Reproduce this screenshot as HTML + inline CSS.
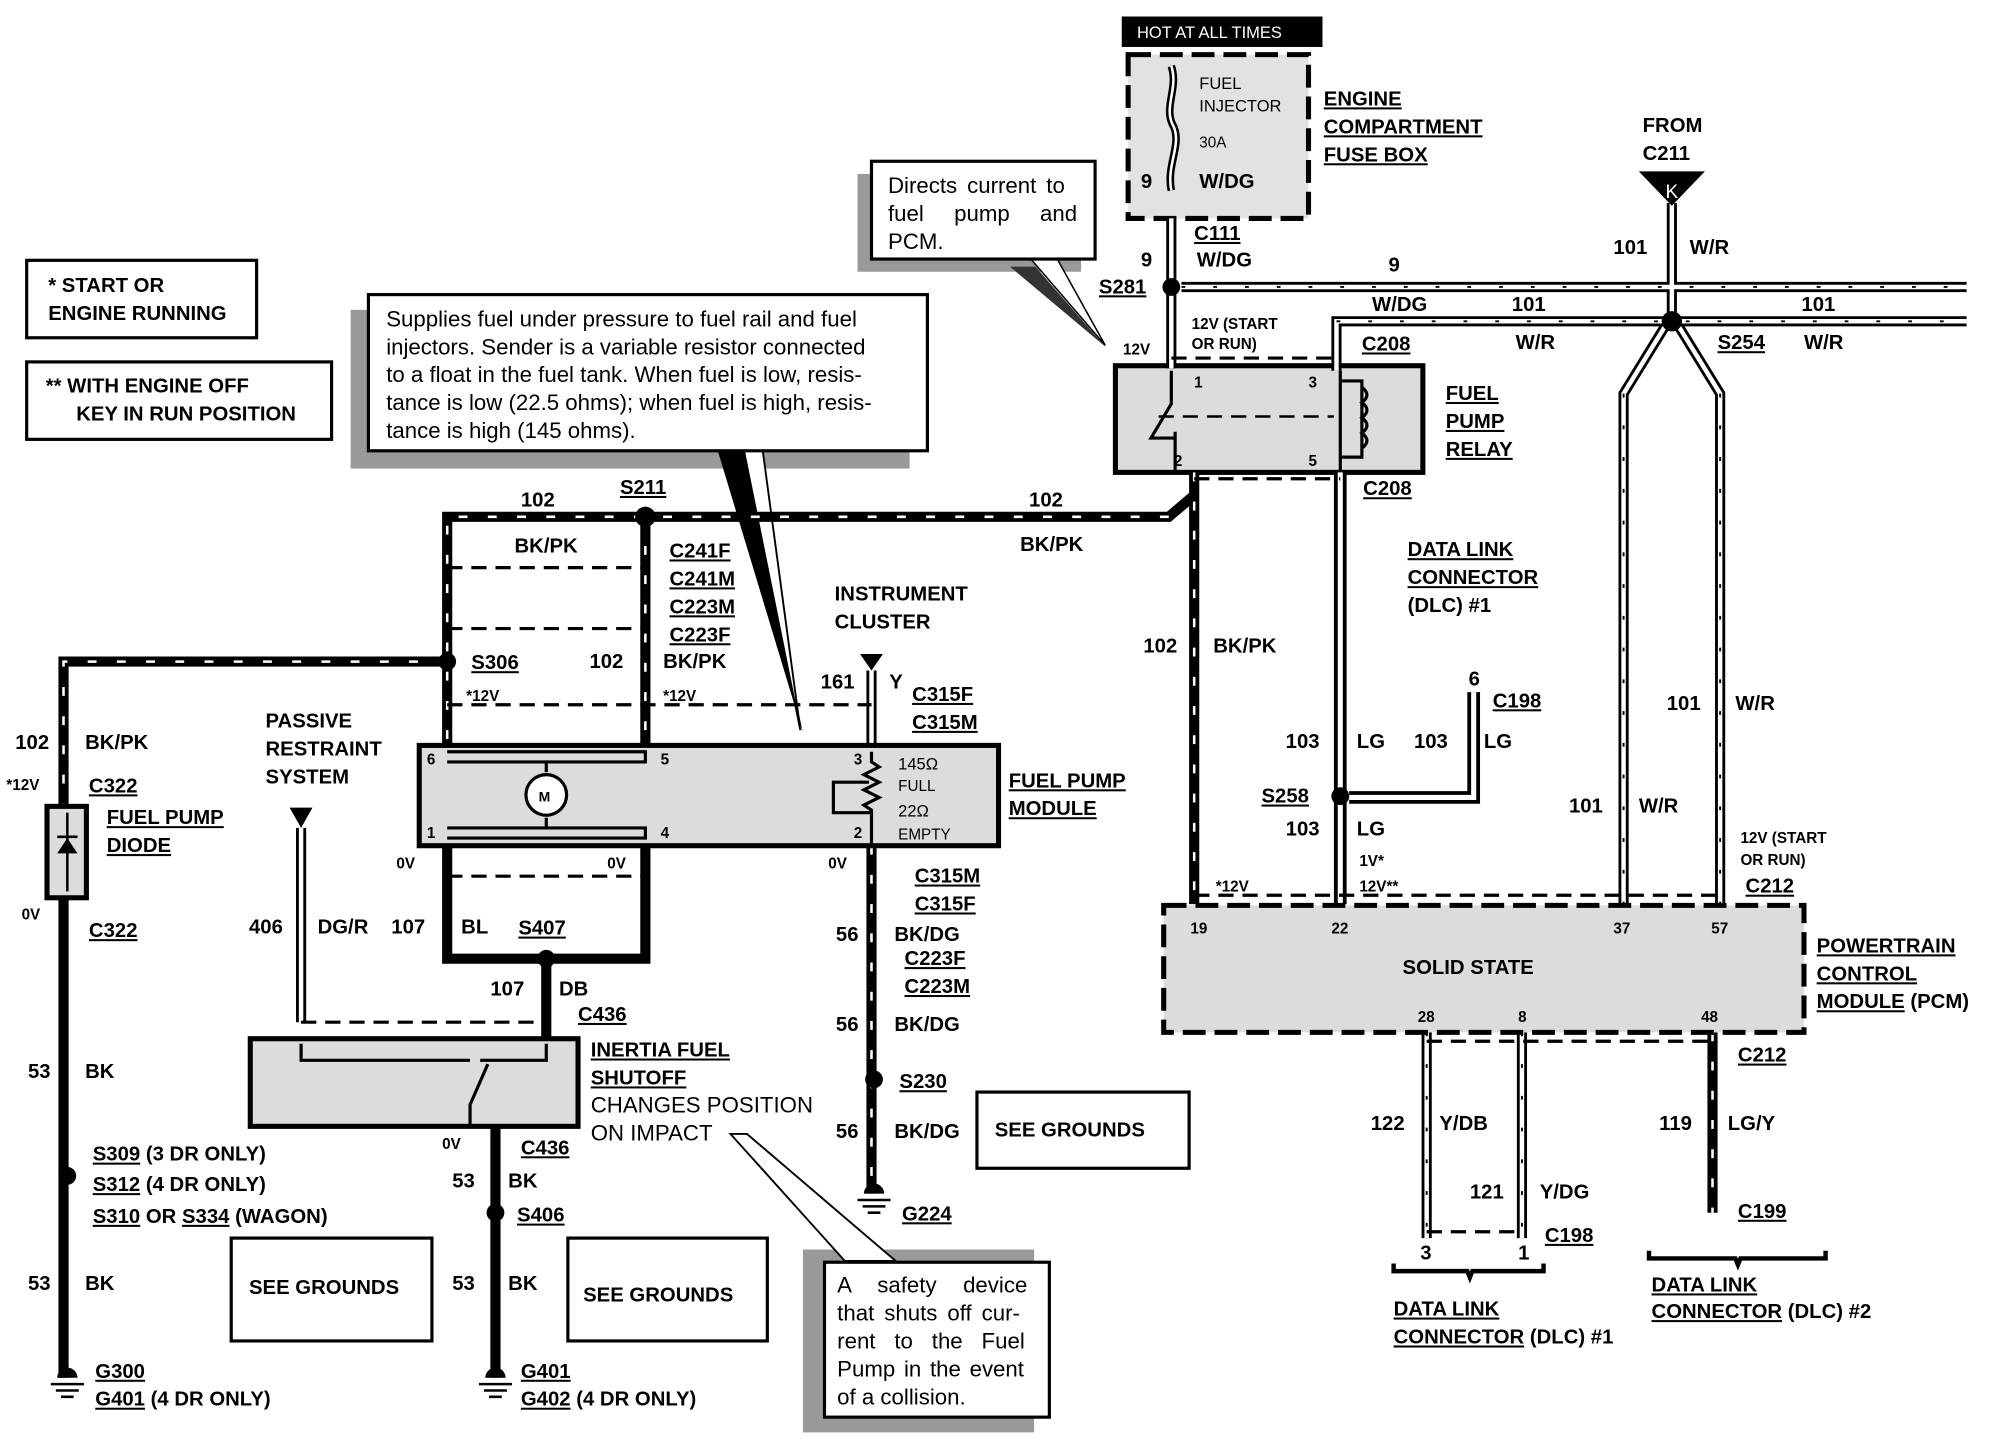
<!DOCTYPE html>
<html><head><meta charset="utf-8"><style>
html,body{margin:0;padding:0;background:#fff}
svg{display:block}
text{font-family:"Liberation Sans",Arial,sans-serif;font-weight:bold;font-size:16px;fill:#000}
.r{font-weight:normal;font-size:17.5px}
.s{font-size:12px}
.u{text-decoration:underline}
.ow{fill:none;stroke:#000;stroke-width:8}
.iw{fill:none;stroke:#fff;stroke-width:3.5}
.ib{fill:none;stroke:#fff;stroke-width:2;stroke-dasharray:7 16}
.sl{fill:none;stroke:#000;stroke-width:1.5;stroke-dasharray:3 22}
.lg{fill:none;stroke:#000;stroke-width:10}
.lgi{fill:none;stroke:#fff;stroke-width:4}
.dash{fill:none;stroke:#000;stroke-width:2.5;stroke-dasharray:12 7}
.dashb{fill:none;stroke:#000;stroke-width:4;stroke-dasharray:18 7}
.box{fill:#dcdcdc;stroke:#000;stroke-width:4}
.thin{fill:none;stroke:#000;stroke-width:2}
</style></head><body>
<svg width="1992" height="1440" viewBox="0 0 1568 1134" preserveAspectRatio="none">
<rect width="1568" height="1134" fill="#fff"/>

<!-- legend boxes -->
<rect x="21" y="205" width="181" height="61" fill="#fff" stroke="#000" stroke-width="2.5"/>
<text x="38" y="230">*   START OR</text>
<text x="38" y="252">ENGINE RUNNING</text>
<rect x="21" y="285" width="240" height="61" fill="#fff" stroke="#000" stroke-width="2.5"/>
<text x="36" y="309">** WITH ENGINE OFF</text>
<text x="60" y="331">KEY IN RUN POSITION</text>

<!-- big callout -->
<rect x="276" y="244" width="440" height="125" fill="#999"/>
<polygon points="565,355 585,355 632,577" fill="#000"/>
<polygon points="585,352 600,352 630,575" fill="#fff" stroke="#000" stroke-width="1.5"/>
<rect x="290" y="232" width="440" height="123" fill="#fff" stroke="#000" stroke-width="2.5"/>
<text class="r" x="304" y="257">Supplies fuel under pressure to fuel rail and fuel</text>
<text class="r" x="304" y="279">injectors. Sender is a variable resistor connected</text>
<text class="r" x="304" y="301">to a float in the fuel tank. When fuel is low, resis-</text>
<text class="r" x="304" y="323">tance is low (22.5 ohms); when fuel is high, resis-</text>
<text class="r" x="304" y="345">tance is high (145 ohms).</text>

<!-- directs current callout -->
<rect x="675" y="137" width="176" height="77" fill="#999"/>
<polygon points="795,210 815,210 870,273" fill="#333"/>
<polygon points="808,200 830,200 870,272" fill="#fff" stroke="#000" stroke-width="1.2"/>
<rect x="686" y="127" width="176" height="77" fill="#fff" stroke="#000" stroke-width="2.5"/>
<text class="r" x="699" y="152" style="word-spacing:3px">Directs current to</text>
<text class="r" x="699" y="174" style="word-spacing:19px">fuel pump and</text>
<text class="r" x="699" y="196">PCM.</text>

<!-- safety callout -->
<rect x="632" y="984" width="182" height="144" fill="#999"/>
<polygon points="575,893 588,893 705,993 665,993" fill="#fff" stroke="#000" stroke-width="1.5"/>
<rect x="649" y="994" width="177" height="122" fill="#fff" stroke="#000" stroke-width="2.5"/>
<text class="r" x="659" y="1018" style="word-spacing:16px">A safety device</text>
<text class="r" x="659" y="1040" style="word-spacing:3px">that shuts off cur-</text>
<text class="r" x="659" y="1062" style="word-spacing:10px">rent to the Fuel</text>
<text class="r" x="659" y="1084" style="word-spacing:2px">Pump in the event</text>
<text class="r" x="659" y="1106">of a collision.</text>

<!-- HOT box & fuse box -->
<rect x="883" y="13" width="158" height="24" fill="#000"/>
<text x="895" y="30" style="fill:#fff;font-weight:normal;font-size:13px">HOT AT ALL TIMES</text>
<rect x="888" y="43" width="142" height="129" class="dashb" style="fill:#e2e2e2"/>
<path d="M922,52 C928,70 915,85 924,100 C930,115 918,130 922,150" fill="none" stroke="#000" stroke-width="6"/>
<path d="M922,52 C928,70 915,85 924,100 C930,115 918,130 922,150" fill="none" stroke="#fff" stroke-width="2"/>
<text x="944" y="70" style="font-weight:normal;font-size:13px">FUEL</text>
<text x="944" y="88" style="font-weight:normal;font-size:13px">INJECTOR</text>
<text x="944" y="116" style="font-weight:normal;font-size:12px">30A</text>
<text x="898" y="148">9</text><text x="944" y="148">W/DG</text>
<text class="u" x="1042" y="83">ENGINE</text>
<text class="u" x="1042" y="105">COMPARTMENT</text>
<text class="u" x="1042" y="127">FUSE BOX</text>

<!-- relay -->
<rect x="878" y="288" width="242" height="84" class="box"/>
<text class="s" x="940" y="305">1</text><text class="s" x="1030" y="305">3</text>
<text class="s" x="924" y="367">2</text><text class="s" x="1030" y="367">5</text>
<path d="M922,292 V318 L906,345 H925 M925,340 V372" class="thin" style="stroke-width:2.5"/>
<path d="M912,328 H1050" class="dash" style="stroke-width:2"/>
<path d="M1055,292 V300 H1072 V360 H1055 V372 M1055,300 V360" class="thin" style="stroke-width:2.5"/>
<path d="M1072,305 q8,6 0,12 q8,6 0,12 q8,6 0,12 q8,6 0,12" class="thin" style="stroke-width:2.5"/>
<text class="u" x="1138" y="315">FUEL</text>
<text class="u" x="1138" y="337">PUMP</text>
<text class="u" x="1138" y="359">RELAY</text>

<!-- striped wires -->
<g>
<path class="ow" d="M922,172 V290 M930,226 H1548 M1052,292 V253 H1548 M1316,160 V253 M1310,258 L1278,310 V712 M1322,258 L1354,310 V712 M1123,813 V975 M1198,813 V975 M237,652 V805 M686,528 V587"/>
<path class="iw" d="M922,172 V290 M930,226 H1548 M1052,292 V253 H1548 M1316,160 V253 M1310,258 L1278,310 V712 M1322,258 L1354,310 V712 M1123,813 V975 M1198,813 V975 M237,652 V805 M686,528 V587"/>
<path class="sl" d="M930,226 H1548 M1052,253 H1548 M1278,310 V712 M1354,310 V712 M1123,813 V975 M1198,813 V975"/>
</g>
<!-- LG wires -->
<path class="lg" d="M1055,372 V712 M1160,545 V628 H1062"/>
<path class="lgi" d="M1055,372 V712 M1160,545 V628 H1062"/>
<!-- black wires -->
<path class="ow" d="M940,372 V712 M940,390 L920,407 H352 V587 M508,407 V587 M352,521 H50 V635 M50,707 V1085 M686,666 V940 M390,887 V1085 M352,666 V755 H508 V666 M430,755 V818 M1348,813 V955"/>
<path class="ib" d="M940,372 V712 M920,407 H352 V587 M508,407 V587 M352,521 H50 V635 M686,666 V940 M1348,813 V955 M237,652 V805"/>

<!-- dashed connector lines -->
<path class="dash" d="M922,282 H1052 M940,377 H1055 M352,447 H508 M352,495 H508 M352,555 H686 M352,690 H508 M237,805 H430 M940,705 H1354 M1123,820 H1348 M1123,970 H1198"/>

<!-- splices -->
<g fill="#000">
<circle cx="922" cy="226" r="7"/><circle cx="1316" cy="253" r="8"/>
<circle cx="508" cy="407" r="8"/><circle cx="352" cy="521" r="7"/>
<circle cx="1055" cy="627" r="7"/><circle cx="430" cy="755" r="7"/>
<circle cx="688" cy="850" r="7"/><circle cx="390" cy="955" r="7"/><circle cx="53" cy="926" r="7"/>
<polygon points="1290,135 1342,135 1316,162"/>
<polygon points="228,636 246,636 237,652"/>
<polygon points="677,515 695,515 686,528"/>
</g>
<text x="1311" y="156" style="fill:#fff;font-weight:normal;font-size:15px">K</text>

<!-- grounds -->
<g fill="#000">
<path d="M45,1085 a8,8 0 0 1 16,0 z"/><path d="M40,1090 h26 M44,1095 h18 M48,1100 h10" stroke="#000" stroke-width="2"/>
<path d="M382,1085 a8,8 0 0 1 16,0 z"/><path d="M377,1090 h26 M381,1095 h18 M385,1100 h10" stroke="#000" stroke-width="2"/>
<path d="M680,940 a8,8 0 0 1 16,0 z"/><path d="M675,945 h26 M679,950 h18 M683,955 h10" stroke="#000" stroke-width="2"/>
</g>

<!-- fuel pump module -->
<rect x="330" y="587" width="456" height="79" class="box"/>
<path d="M352,592 H508 V600 H352 M352,660 H508 V652 H352 M430,600 V608 M430,644 V652" class="thin" style="stroke-width:2.5"/>
<circle cx="430" cy="626" r="16" fill="#fff" stroke="#000" stroke-width="2.5"/>
<text x="424" y="631" style="font-size:11px">M</text>
<text class="s" x="336" y="602">6</text><text class="s" x="520" y="602">5</text>
<text class="s" x="336" y="660">1</text><text class="s" x="520" y="660">4</text>
<text class="s" x="672" y="602">3</text><text class="s" x="672" y="660">2</text>
<path d="M686,592 V600 l6,4 -12,6 12,6 -12,6 12,6 -12,6 6,4 V666 M686,640 H656 V616 H684" class="thin" style="stroke-width:2.5"/>
<text x="707" y="606" style="font-weight:normal;font-size:13px">145Ω</text>
<text x="707" y="623" style="font-weight:normal;font-size:12px">FULL</text>
<text x="707" y="643" style="font-weight:normal;font-size:13px">22Ω</text>
<text x="707" y="661" style="font-weight:normal;font-size:12px">EMPTY</text>
<text class="u" x="794" y="620">FUEL PUMP</text>
<text class="u" x="794" y="642">MODULE</text>

<!-- diode -->
<rect x="37" y="635" width="31" height="72" fill="#dcdcdc" stroke="#000" stroke-width="4"/>
<path d="M53,640 V702" stroke="#000" stroke-width="2"/>
<polygon points="45,672 61,672 53,660" fill="#000"/><path d="M45,659 h16" stroke="#000" stroke-width="2"/>
<text class="u" x="84" y="649">FUEL PUMP</text>
<text class="u" x="84" y="671">DIODE</text>

<!-- inertia switch -->
<rect x="197" y="818" width="258" height="69" class="box"/>
<path d="M237,822 V835 H370 M378,835 H430 V822 M384,838 L370,870 V887" class="thin" style="stroke-width:2.5"/>
<text class="u" x="465" y="832">INERTIA FUEL</text>
<text class="u" x="465" y="854">SHUTOFF</text>
<text class="r" x="465" y="876">CHANGES POSITION</text>
<text class="r" x="465" y="898">ON IMPACT</text>

<!-- PCM -->
<rect x="916" y="713" width="504" height="100" class="dashb" style="fill:#dcdcdc"/>
<text x="1104" y="767">SOLID STATE</text>
<text class="s" x="937" y="735">19</text><text class="s" x="1048" y="735">22</text>
<text class="s" x="1270" y="735">37</text><text class="s" x="1347" y="735">57</text>
<text class="s" x="1116" y="805">28</text><text class="s" x="1195" y="805">8</text><text class="s" x="1339" y="805">48</text>
<text class="u" x="1430" y="750">POWERTRAIN</text>
<text class="u" x="1430" y="772">CONTROL</text>
<text x="1430" y="794"><tspan class="u">MODULE</tspan> (PCM)</text>

<!-- see grounds boxes -->
<rect x="769" y="860" width="167" height="60" fill="#fff" stroke="#000" stroke-width="2.5"/>
<text x="783" y="895">SEE  GROUNDS</text>
<rect x="182" y="975" width="158" height="81" fill="#fff" stroke="#000" stroke-width="2.5"/>
<text x="196" y="1019">SEE GROUNDS</text>
<rect x="447" y="975" width="157" height="81" fill="#fff" stroke="#000" stroke-width="2.5"/>
<text x="459" y="1025">SEE GROUNDS</text>

<!-- brackets -->
<path d="M1097,995 V1001 H1155 L1157,1006 L1159,1001 H1215 V995" fill="none" stroke="#000" stroke-width="3.5"/>
<path d="M1298,985 V991 H1366 L1368,996 L1370,991 H1437 V985" fill="none" stroke="#000" stroke-width="3.5"/>

<!-- labels top -->
<text x="898" y="210">9</text><text x="942" y="210">W/DG</text>
<text class="u" x="940" y="189">C111</text>
<text class="u" x="865" y="231">S281</text>
<text x="1093" y="214">9</text>
<text x="938" y="259" style="font-size:12px">12V (START</text>
<text x="938" y="275" style="font-size:12px">OR RUN)</text>
<text x="884" y="279" style="font-size:12px">12V</text>
<text x="1080" y="245">W/DG</text>
<text x="1190" y="245">101</text><text x="1193" y="275">W/R</text>
<text x="1418" y="245">101</text><text x="1420" y="275">W/R</text>
<text class="u" x="1352" y="275">S254</text>
<text class="u" x="1072" y="276">C208</text>
<text class="u" x="1073" y="390">C208</text>
<text x="1293" y="104">FROM</text><text x="1293" y="126">C211</text>
<text x="1270" y="200">101</text><text x="1330" y="200">W/R</text>
<text x="410" y="399">102</text><text x="810" y="399">102</text>
<text class="u" x="488" y="389">S211</text>
<text x="405" y="435">BK/PK</text><text x="803" y="434">BK/PK</text>
<text class="u" x="527" y="439">C241F</text><text class="u" x="527" y="461">C241M</text>
<text class="u" x="527" y="483">C223M</text><text class="u" x="527" y="505">C223F</text>
<text class="u" x="371" y="527">S306</text>
<text x="464" y="526">102</text><text x="522" y="526">BK/PK</text>
<text x="367" y="552" style="font-size:12px">*12V</text><text x="522" y="552" style="font-size:12px">*12V</text>
<text x="657" y="473">INSTRUMENT</text><text x="657" y="495">CLUSTER</text>
<text x="646" y="542">161</text><text x="700" y="542">Y</text>
<text class="u" x="718" y="552">C315F</text><text class="u" x="718" y="574">C315M</text>
<text x="900" y="514">102</text><text x="955" y="514">BK/PK</text>
<text class="u" x="1108" y="438">DATA LINK</text>
<text class="u" x="1108" y="460">CONNECTOR</text>
<text x="1108" y="482">(DLC) #1</text>
<text x="1156" y="540">6</text><text class="u" x="1175" y="557">C198</text>
<text x="1012" y="589">103</text><text x="1068" y="589">LG</text>
<text x="1113" y="589">103</text><text x="1168" y="589">LG</text>
<text class="u" x="993" y="632">S258</text>
<text x="1012" y="658">103</text><text x="1068" y="658">LG</text>
<text x="1070" y="682" style="font-size:12px">1V*</text>
<text x="1070" y="702" style="font-size:12px">12V**</text>
<text x="957" y="702" style="font-size:12px">*12V</text>
<text x="1312" y="559">101</text><text x="1366" y="559">W/R</text>
<text x="1235" y="640">101</text><text x="1290" y="640">W/R</text>
<text x="1370" y="664" style="font-size:12px">12V (START</text>
<text x="1370" y="681" style="font-size:12px">OR RUN)</text>
<text class="u" x="1374" y="703">C212</text>
<text class="u" x="1368" y="836">C212</text>
<text x="1079" y="890">122</text><text x="1133" y="890">Y/DB</text>
<text x="1157" y="944">121</text><text x="1212" y="944">Y/DG</text>
<text class="u" x="1216" y="978">C198</text>
<text x="1118" y="992">3</text><text x="1195" y="992">1</text>
<text x="1306" y="890">119</text><text x="1360" y="890">LG/Y</text>
<text class="u" x="1368" y="959">C199</text>
<text class="u" x="1097" y="1036">DATA LINK</text>
<text x="1097" y="1058"><tspan class="u">CONNECTOR</tspan> (DLC) #1</text>
<text class="u" x="1300" y="1017">DATA LINK</text>
<text x="1300" y="1038"><tspan class="u">CONNECTOR</tspan> (DLC) #2</text>

<!-- labels left -->
<text x="12" y="590">102</text><text x="67" y="590">BK/PK</text>
<text x="5" y="622" style="font-size:12px">*12V</text>
<text class="u" x="70" y="624">C322</text>
<text x="17" y="724" style="font-size:12px">0V</text>
<text class="u" x="70" y="738">C322</text>
<text x="22" y="849">53</text><text x="67" y="849">BK</text>
<text x="73" y="914"><tspan class="u">S309</tspan>  (3 DR ONLY)</text>
<text x="73" y="938"><tspan class="u">S312</tspan>  (4 DR ONLY)</text>
<text x="73" y="963"><tspan class="u">S310</tspan> OR <tspan class="u">S334</tspan> (WAGON)</text>
<text x="22" y="1016">53</text><text x="67" y="1016">BK</text>
<text class="u" x="75" y="1085">G300</text>
<text x="75" y="1107"><tspan class="u">G401</tspan>  (4 DR ONLY)</text>
<text x="209" y="573">PASSIVE</text><text x="209" y="595">RESTRAINT</text><text x="209" y="617">SYSTEM</text>
<text x="312" y="684" style="font-size:12px">0V</text>
<text x="478" y="684" style="font-size:12px">0V</text>
<text x="652" y="684" style="font-size:12px">0V</text>
<text x="196" y="735">406</text><text x="250" y="735">DG/R</text>
<text x="308" y="735">107</text><text x="363" y="735">BL</text>
<text class="u" x="408" y="736">S407</text>
<text x="386" y="784">107</text><text x="440" y="784">DB</text>
<text class="u" x="455" y="804">C436</text>
<text class="u" x="720" y="695">C315M</text><text class="u" x="720" y="717">C315F</text>
<text x="658" y="741">56</text><text x="704" y="741">BK/DG</text>
<text class="u" x="712" y="760">C223F</text><text class="u" x="712" y="782">C223M</text>
<text x="658" y="812">56</text><text x="704" y="812">BK/DG</text>
<text class="u" x="708" y="857">S230</text>
<text x="658" y="896">56</text><text x="704" y="896">BK/DG</text>
<text class="u" x="710" y="961">G224</text>
<text x="348" y="905" style="font-size:12px">0V</text>
<text class="u" x="410" y="909">C436</text>
<text x="356" y="935">53</text><text x="400" y="935">BK</text>
<text class="u" x="407" y="962">S406</text>
<text x="356" y="1016">53</text><text x="400" y="1016">BK</text>
<text class="u" x="410" y="1085">G401</text>
<text x="410" y="1107"><tspan class="u">G402</tspan>  (4 DR ONLY)</text>
</svg>
</body></html>
